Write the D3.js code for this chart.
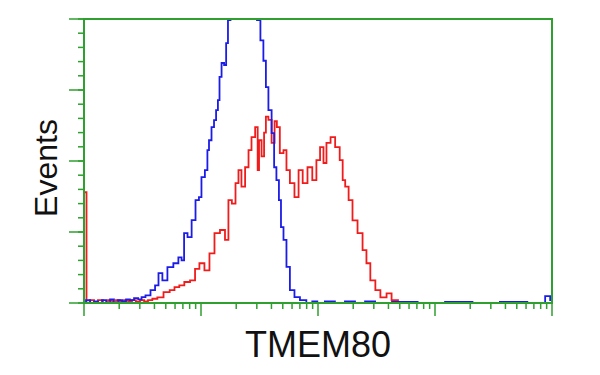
<!DOCTYPE html>
<html>
<head>
<meta charset="utf-8">
<script src="https://cdn.jsdelivr.net/npm/d3@7"></script>
<style>
  body { margin: 0; background: #fff; }
  svg { display: block; }
</style>
</head>
<body>
<div id="chart"></div>
<script>
// histogram channels (0-1024, 256 per decade) and event counts
let blueChannels = [0, 9, 18, 26, 35, 44, 53, 61, 70, 79, 88, 96, 105, 114, 123, 129, 140, 151, 160, 166, 177, 188, 203, 210, 217, 221, 232, 239, 249, 254, 260, 269, 271, 276, 282, 287, 291, 295, 298, 304, 309, 313, 317, 324, 333, 341, 352, 363, 374, 383, 389, 396, 400, 407, 414, 418, 424, 429, 433, 440, 446, 455, 466, 479, 494, 505, 516, 538, 560, 582, 604, 626, 648, 700, 760, 820, 880, 940, 1000, 1018, 1022];
let blueCounts   = [0, 1, 0, 0.6, 0, 1, 0, 1.3, 0, 1, 0.6, 1.3, 1, 1.7, 1.3, 2.1, 2.7, 4.5, 6.2, 10.5, 8, 12.6, 14, 16.1, 15, 24.6, 23.2, 29.2, 36.2, 37.3, 44.3, 46.8, 53.8, 57.3, 61.9, 64.4, 67.9, 71.4, 79.6, 84.5, 83.8, 91.5, 99.6, 103, 105, 107, 107, 105, 103, 99.6, 92.5, 85.3, 76, 67.9, 59.8, 47.8, 43.3, 36.2, 26.7, 22.2, 12.7, 4.5, 2.1, 1, 0, 0.6, 0, 0.6, 0, 0.6, 0, 0.6, 0, 0.4, 0, 0.4, 0, 0.4, 0, 2.4, 1];

let redChannels = [0, 4, 7, 18, 26, 35, 48, 57, 66, 74, 83, 92, 101, 109, 118, 127, 136, 144, 155, 166, 182, 193, 203, 214, 225, 239, 247, 258, 269, 280, 291, 304, 313, 319, 328, 335, 341, 348, 357, 363, 370, 379, 381, 385, 392, 396, 400, 407, 414, 420, 424, 433, 440, 446, 455, 466, 473, 484, 494, 505, 512, 521, 527, 534, 545, 554, 565, 567, 576, 582, 593, 604, 615, 621, 632, 643, 654, 670, 676, 698, 720, 731, 1022];
let redCounts   = [39, 39, 0, 1, 0, 1, 0, 1, 0, 1, 0.5, 1, 0.5, 1, 0.5, 1, 0.6, 1, 1.5, 2, 3.8, 4.5, 5.6, 6.2, 7.4, 8, 12, 14, 11.5, 17.5, 24.6, 25.7, 22.2, 36.2, 35, 42.2, 46.8, 41, 47.8, 53.8, 58.4, 61.9, 46.8, 57.3, 51.6, 60, 65.6, 64.5, 56.4, 64, 61.9, 52.8, 53.8, 46.8, 42.2, 37.3, 46.8, 42.2, 47.8, 43.3, 50.3, 54.9, 49.3, 56.4, 58.4, 54.9, 50.3, 43.3, 41, 36.2, 29.1, 24.6, 18.6, 14, 8, 4.5, 2, 3.4, 1, 0.4, 0.4, 0, 0];

let xDomain = [1, 10000];
let yDomain = [0, 100];
let yMajor = [0, 25, 50, 75, 100];
let yMinor = d3.range(0, 101, 5);

let margin = { top: 19, left: 84, right: 48, bottom: 72 },
    width = 600 - margin.left - margin.right,
    height = 375 - margin.top - margin.bottom;

let green = '#2f9f2f';

let svg = d3.select('#chart')
    .append('svg')
    .attr('width', 600)
    .attr('height', 375);

let chartGroup = svg.append('g')
    .attr('transform', 'translate(' + margin.left + ',' + margin.top + ')');

let x = d3.scaleLog().domain(xDomain).range([0, width]);
let y = d3.scaleLinear().domain(yDomain).range([height, 0]);

// clip so the blue peak runs off the top
svg.append('defs').append('clipPath')
    .attr('id', 'plot-clip')
    .append('rect')
    .attr('width', width)
    .attr('height', height);

let line = d3.line()
    .x(d => x(Math.pow(10, d.ch / 256)))
    .y(d => y(d.n))
    .curve(d3.curveStep);

let blue = blueChannels.map((c, i) => ({ ch: c, n: blueCounts[i] }));
let red = redChannels.map((c, i) => ({ ch: c, n: redCounts[i] }));

let plot = chartGroup.append('g').attr('clip-path', 'url(#plot-clip)');

plot.append('path')
    .datum(red)
    .attr('fill', 'none')
    .attr('stroke', '#f01c1c')
    .attr('stroke-width', 1.8)
    .attr('d', line);

plot.append('path')
    .datum(blue)
    .attr('fill', 'none')
    .attr('stroke', '#1c1ce8')
    .attr('stroke-width', 1.8)
    .attr('d', line);

// frame
chartGroup.append('rect')
    .attr('width', width)
    .attr('height', height)
    .attr('fill', 'none')
    .attr('stroke', green)
    .attr('stroke-width', 2);

// x axis: log ticks, longer at decades
let xMinor = [];
for (let dec = 1; dec < 10000; dec *= 10) {
    for (let k = 2; k <= 9; k++) xMinor.push(dec * k);
}
let xMajor = [1, 10, 100, 1000, 10000];

let xAxis = chartGroup.append('g').attr('transform', 'translate(0,' + height + ')');
xAxis.selectAll('line.minor')
    .data(xMinor)
    .enter().append('line')
    .attr('class', 'minor')
    .attr('x1', d => x(d)).attr('x2', d => x(d))
    .attr('y1', 0).attr('y2', 6)
    .attr('stroke', green).attr('stroke-width', 1.5);
xAxis.selectAll('line.major')
    .data(xMajor)
    .enter().append('line')
    .attr('class', 'major')
    .attr('x1', d => x(d)).attr('x2', d => x(d))
    .attr('y1', 0).attr('y2', 13)
    .attr('stroke', green).attr('stroke-width', 1.5);

// y axis ticks
let yAxis = chartGroup.append('g');
yAxis.selectAll('line.minor')
    .data(yMinor)
    .enter().append('line')
    .attr('class', 'minor')
    .attr('x1', -6).attr('x2', 0)
    .attr('y1', d => y(d)).attr('y2', d => y(d))
    .attr('stroke', green).attr('stroke-width', 1.5);
yAxis.selectAll('line.major')
    .data(yMajor)
    .enter().append('line')
    .attr('class', 'major')
    .attr('x1', -15).attr('x2', 0)
    .attr('y1', d => y(d)).attr('y2', d => y(d))
    .attr('stroke', green).attr('stroke-width', 1.5);

// axis titles
svg.append('text')
    .attr('x', margin.left + width / 2)
    .attr('y', 357)
    .attr('text-anchor', 'middle')
    .attr('font-family', 'Liberation Sans, Arial, sans-serif')
    .attr('font-size', 36)
    .attr('fill', '#111')
    .text('TMEM80');

svg.append('text')
    .attr('transform', 'translate(57,168) rotate(-90)')
    .attr('text-anchor', 'middle')
    .attr('font-family', 'Liberation Sans, Arial, sans-serif')
    .attr('font-size', 32)
    .attr('fill', '#111')
    .text('Events');
</script>
</body>
</html>
